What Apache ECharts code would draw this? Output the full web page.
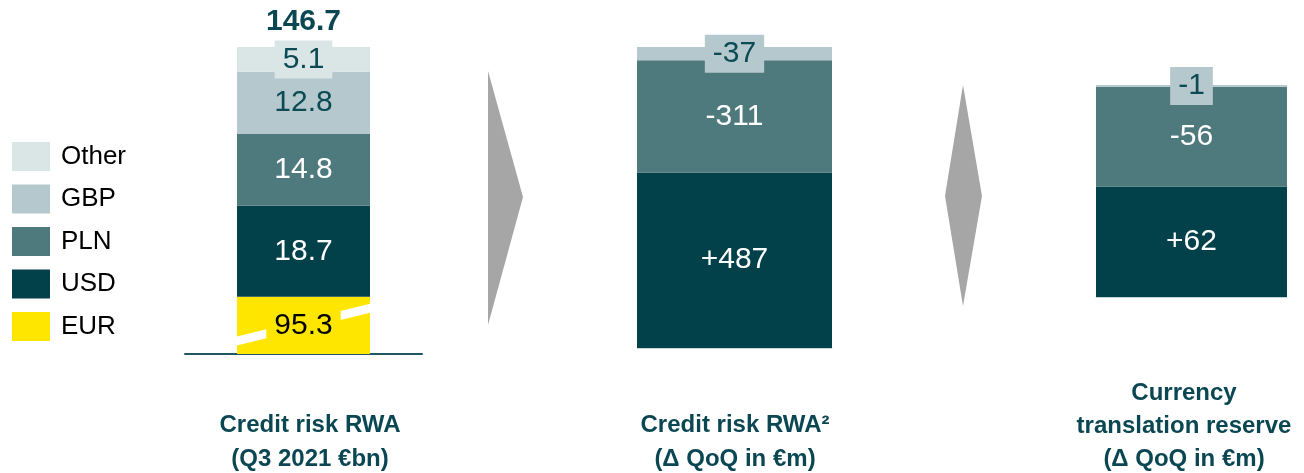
<!DOCTYPE html>
<html><head><meta charset="utf-8">
<script src="https://cdn.jsdelivr.net/npm/echarts@6.0.0/dist/echarts.min.js"></script>
<style>html,body{margin:0;padding:0;background:#fff}#c{width:1304px;height:473px}</style>
</head><body><div id="c"></div>
<script>
// ---- Data ----
// Panel 1: Credit risk RWA, Q3 2021 (€bn), stacked bottom to top
const currencies = ['EUR', 'USD', 'PLN', 'GBP', 'Other'];
const rwaByCurrency = [95.3, 18.7, 14.8, 12.8, 5.1];
const legendOrder = ['Other', 'GBP', 'PLN', 'USD', 'EUR'];
// Panel 2: Credit risk RWA, Δ QoQ (€m), segments bottom to top
const rwaDeltaSegments = ['USD', 'PLN', 'GBP'];
const rwaDelta = [487, -311, -37];
// Panel 3: Currency translation reserve, Δ QoQ (€m), segments bottom to top
const ctrDeltaSegments = ['USD', 'PLN', 'GBP'];
const ctrDelta = [62, -56, -1];
// Panel titles
const panelTitles = [
  'Credit risk RWA\n(Q3 2021 €bn)',
  'Credit risk RWA²\n(Δ QoQ in €m)',
  'Currency\ntranslation reserve\n(Δ QoQ in €m)'
];

// ---- Styles ----
const FONT = '"Liberation Sans", Arial, sans-serif';
const colors = { EUR: '#ffe600', USD: '#02404a', PLN: '#4e797d', GBP: '#b5c8cd', Other: '#dae5e6' };
const labelColors = { EUR: '#000000', USD: '#ffffff', PLN: '#ffffff', GBP: '#0c4a54', Other: '#0c4a54' };
const TITLE_COLOR = '#0a4752';
const BAR1 = 133, BAR2 = 195, BAR3 = 191;

const total = rwaByCurrency.reduce((a, b) => a + b, 0);
const fmtSigned = v => (v > 0 ? '+' + v : String(v));
const sumAbs = arr => arr.reduce((a, b) => a + Math.abs(b), 0);

const chart = echarts.init(document.getElementById('c'), null, { renderer: 'canvas' });

const labelBase = { show: true, position: 'inside', fontSize: 30, fontFamily: FONT, padding: [4, 8] };

const series = [];
// Panel 1 stacked bars
currencies.forEach((cur, i) => {
  series.push({
    name: cur, type: 'bar', stack: 'p1', xAxisIndex: 0, yAxisIndex: 0,
    barWidth: BAR1, barGap: '-100%',
    data: [rwaByCurrency[i]],
    itemStyle: { color: colors[cur] },
    label: cur === 'EUR' ? { show: false } : Object.assign({}, labelBase, {
      color: labelColors[cur], backgroundColor: colors[cur],
      formatter: p => p.value.toFixed(1)
    })
  });
});
// Panel 1 total label (transparent overlay bar)
series.push({
  name: 'Total', type: 'bar', xAxisIndex: 0, yAxisIndex: 0,
  barWidth: BAR1, barGap: '-100%', z: 1,
  data: [total],
  itemStyle: { color: 'rgba(0,0,0,0)' },
  label: { show: true, position: 'top', distance: 10, fontSize: 30, fontWeight: 'bold',
    fontFamily: FONT, color: TITLE_COLOR, formatter: p => p.value.toFixed(1) }
});
// Panel 1 break stripe + EUR label
series.push({
  name: 'EURbreak', type: 'custom', xAxisIndex: 0, yAxisIndex: 0, z: 5,
  data: [[0, rwaByCurrency[0]]],
  renderItem: (params, api) => {
    const base = api.coord([0, 0]);
    const top = api.coord([0, api.value(1)]);
    const cx = base[0], yb = base[1], yt = top[1], h = yb - yt;
    const hw = BAR1 / 2, t = 4.5;
    const yl = yb - 0.227 * h, yr = yb - 0.80 * h;
    return {
      type: 'group', children: [
        { type: 'polygon', shape: { points: [[cx - hw, yl - t], [cx + hw, yr - t], [cx + hw, yr + t], [cx - hw, yl + t]] },
          style: { fill: '#ffffff' } },
        { type: 'text', x: cx, y: (yb + yt) / 2, z2: 10,
          style: { text: String(api.value(1)), fill: labelColors.EUR, font: '30px ' + FONT,
            align: 'center', verticalAlign: 'middle', backgroundColor: colors.EUR, padding: [4, 8] } }
      ]
    };
  }
});
// Panels 2 and 3
function deltaSeries(segs, vals, stack, axisIdx, barW) {
  segs.forEach((cur, i) => {
    series.push({
      name: stack + ' ' + cur, type: 'bar', stack: stack, xAxisIndex: axisIdx, yAxisIndex: axisIdx,
      barWidth: barW,
      data: [{ value: Math.abs(vals[i]), signed: vals[i] }],
      itemStyle: { color: colors[cur] },
      label: Object.assign({}, labelBase, {
        color: labelColors[cur], backgroundColor: colors[cur],
        formatter: () => fmtSigned(vals[i])
      })
    });
  });
}
deltaSeries(rwaDeltaSegments, rwaDelta, 'p2', 1, BAR2);
deltaSeries(ctrDeltaSegments, ctrDelta, 'p3', 2, BAR3);

const hiddenX = (lineColor, lineWidth) => ({
  type: 'category', data: [''],
  axisLine: { show: true, lineStyle: { color: lineColor, width: lineWidth } },
  axisTick: { show: false }, axisLabel: { show: false }, splitLine: { show: false }
});
const hiddenY = (max, extra) => Object.assign({
  type: 'value', min: 0, max: max,
  axisLine: { show: false }, axisTick: { show: false }, axisLabel: { show: false }, splitLine: { show: false }
}, extra || {});

const option = {
  animation: false,
  textStyle: { fontFamily: FONT },
  grid: [
    { left: 185, top: 47, width: 237, height: 307 },
    { left: 637, top: 47, width: BAR2, height: 301 },
    { left: 1096, top: 85, width: BAR3, height: 212 }
  ],
  xAxis: [
    Object.assign(hiddenX('#1f5862', 2), { gridIndex: 0 }),
    Object.assign(hiddenX('#c5d4d7', 1), { gridIndex: 1 }),
    Object.assign(hiddenX('#c5d4d7', 1), { gridIndex: 2 })
  ],
  yAxis: [
    Object.assign(hiddenY(total, { breaks: [{ start: 4, end: 89, gap: 1.5 }], breakArea: { show: false } }), { gridIndex: 0 }),
    Object.assign(hiddenY(sumAbs(rwaDelta)), { gridIndex: 1 }),
    Object.assign(hiddenY(sumAbs(ctrDelta)), { gridIndex: 2 })
  ],
  legend: {
    data: legendOrder, orient: 'vertical', left: 12, top: 142, padding: 0,
    itemWidth: 38, itemHeight: 29, itemGap: 13.5, icon: 'rect', selectedMode: false,
    textStyle: { fontSize: 26, color: '#000', fontFamily: FONT, padding: [0, 0, 0, 6] }
  },
  graphic: [
    { type: 'polygon', shape: { points: [[488, 71], [523, 197], [488, 325]] }, style: { fill: '#a6a6a6' } },
    { type: 'polygon', shape: { points: [[963, 85], [982, 196], [963, 306], [945, 196]] }, style: { fill: '#a6a6a6' } },
    { type: 'text', x: 310, y: 442, style: { text: panelTitles[0], font: 'bold 24px ' + FONT, fill: TITLE_COLOR, align: 'center', verticalAlign: 'middle', lineHeight: 34 } },
    { type: 'text', x: 735, y: 442, style: { text: panelTitles[1], font: 'bold 24px ' + FONT, fill: TITLE_COLOR, align: 'center', verticalAlign: 'middle', lineHeight: 34 } },
    { type: 'text', x: 1184, y: 426, style: { text: panelTitles[2], font: 'bold 24px ' + FONT, fill: TITLE_COLOR, align: 'center', verticalAlign: 'middle', lineHeight: 33 } }
  ],
  series: series
};
chart.setOption(option);
</script>
</body></html>
